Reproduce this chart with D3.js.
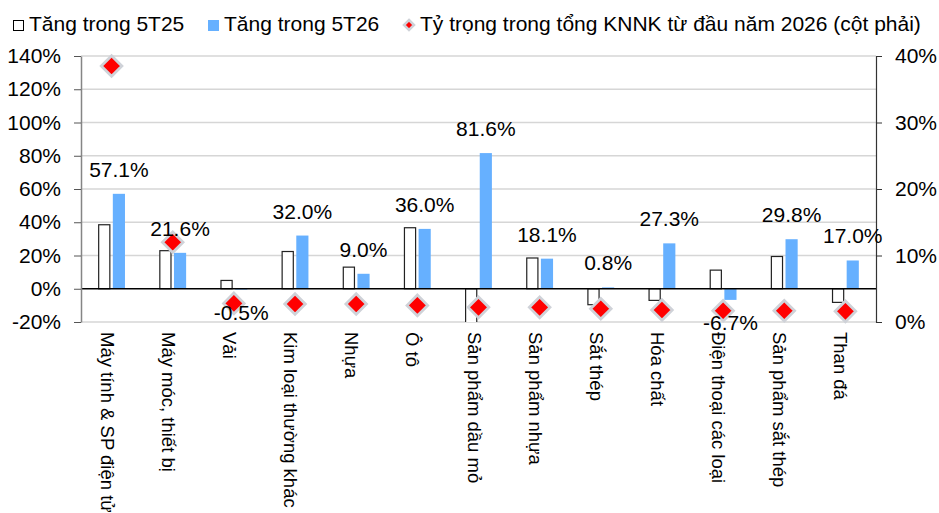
<!DOCTYPE html>
<html>
<head>
<meta charset="utf-8">
<script src="https://cdnjs.cloudflare.com/ajax/libs/d3/7.8.5/d3.min.js"></script>
<style>
    body { margin: 0; background: #fff; }
    svg { font-family: "Liberation Sans", Arial, sans-serif; display: block; }
</style>
</head>
<body>
<div class="chart-bars"></div>
<script>
var categories = ["Máy tính & SP điện tử", "Máy móc, thiết bị", "Vải", "Kim loại thường khác", "Nhựa", "Ô tô",
    "Sản phẩm dầu mỏ", "Sản phẩm nhựa", "Sắt thép", "Hóa chất", "Điện thoại các loại", "Sản phẩm sắt thép", "Than đá"];
var tang5T25 = [38.5, 22.9, 5.0, 22.4, 13.0, 36.7, -35.0, 18.5, -9.6, -7.0, 11.2, 19.4, -8.2];
var tang5T26 = [57.1, 21.6, -0.5, 32.0, 9.0, 36.0, 81.6, 18.1, 0.8, 27.3, -6.7, 29.8, 17.0];
var tyTrong = [38.5, 12.0, 2.8, 2.7, 2.7, 2.5, 2.2, 2.2, 2.0, 1.8, 1.7, 1.7, 1.6];
var leftTicks = [-20, 0, 20, 40, 60, 80, 100, 120, 140];
var rightTicks = [0, 10, 20, 30, 40];
var seriesNames = ["Tăng trong 5T25", "Tăng trong 5T26", "Tỷ trọng trong tổng KNNK từ đầu năm 2026 (cột phải)"];

var W = 939, H = 513,
    margin = {top: 56, right: 63, bottom: 191, left: 81},
    width = W - margin.left - margin.right,
    height = H - margin.top - margin.bottom;

var svg = d3.select(".chart-bars").append("svg")
    .attr("width", W)
    .attr("height", H);

var g = svg.append("g").attr("transform", "translate(" + margin.left + "," + margin.top + ")");

var x = d3.scaleBand().domain(categories).range([0, width]);
var x1 = d3.scaleBand().domain(["a", "b"]).range([-13.4, 13.4]).paddingInner(0.17);
var yL = d3.scaleLinear().domain([-20, 140]).range([height, 0]);
var yR = d3.scaleLinear().domain([0, 40]).range([height, 0]);

var data = categories.map(function(c, i) {
    return {cat: c, a: tang5T25[i], b: tang5T26[i], t: tyTrong[i]};
});

g.append("clipPath").attr("id", "plot")
    .append("rect").attr("width", width).attr("height", height);

// gridlines
g.append("g").selectAll("line")
    .data(leftTicks.filter(function(d) { return d !== 0; }))
    .enter().append("line")
    .attr("x1", 0).attr("x2", width)
    .attr("y1", function(d) { return yL(d); })
    .attr("y2", function(d) { return yL(d); })
    .attr("stroke", "#d6d6d6")
    .attr("stroke-width", 1.5);

var bars = g.append("g").attr("clip-path", "url(#plot)");

bars.selectAll(".bar-a")
    .data(data)
    .enter().append("rect")
    .attr("x", function(d) { return x(d.cat) + x.bandwidth() / 2 + x1("a") + 0.5; })
    .attr("width", x1.bandwidth() - 1)
    .attr("y", function(d) { return yL(Math.max(0, d.a)); })
    .attr("height", function(d) { return Math.abs(yL(d.a) - yL(0)); })
    .attr("fill", "#fff")
    .attr("stroke", "#222")
    .attr("stroke-width", 1.2);

bars.selectAll(".bar-b")
    .data(data)
    .enter().append("rect")
    .attr("x", function(d) { return x(d.cat) + x.bandwidth() / 2 + x1("b"); })
    .attr("width", x1.bandwidth())
    .attr("y", function(d) { return yL(Math.max(0, d.b)); })
    .attr("height", function(d) { return Math.abs(yL(d.b) - yL(0)); })
    .attr("fill", "#66b0ff");

// zero line
g.append("line")
    .attr("x1", 0).attr("x2", width)
    .attr("y1", yL(0)).attr("y2", yL(0))
    .attr("stroke", "#000")
    .attr("stroke-width", 1.5);

// axes
var axL = g.append("g")
    .call(d3.axisLeft(yL).tickValues(leftTicks).tickSize(7).tickSizeOuter(0).tickPadding(13)
        .tickFormat(function(d) { return d + "%"; }));
axL.select(".domain").attr("stroke", "#858585").attr("stroke-width", 1.5);
axL.selectAll(".tick line").attr("stroke", "#555");

var axR = g.append("g")
    .attr("transform", "translate(" + width + ",0)")
    .call(d3.axisRight(yR).tickValues(rightTicks).tickSize(6).tickSizeOuter(0).tickPadding(13)
        .tickFormat(function(d) { return d + "%"; }));
axR.select(".domain").attr("stroke", "#333").attr("stroke-width", 1.2);
axR.selectAll(".tick line").attr("stroke", "#333");

g.selectAll(".tick text")
    .attr("font-family", "Liberation Sans, Arial, sans-serif")
    .attr("font-size", 21)
    .attr("fill", "#000");

// diamonds
var diamond = function(h) { return "M0," + (-h) + "L" + h + ",0L0," + h + "L" + (-h) + ",0Z"; };

g.append("g").selectAll("path")
    .data(data)
    .enter().append("path")
    .attr("transform", function(d) { return "translate(" + (x(d.cat) + x.bandwidth() / 2) + "," + yR(d.t) + ")"; })
    .attr("d", diamond(10.3))
    .attr("fill", "#ff0000")
    .attr("stroke", "#cfd2d8")
    .attr("stroke-width", 2.8);

// value labels for 5T26
g.append("g").selectAll("text")
    .data(data)
    .enter().append("text")
    .attr("x", function(d) { return x(d.cat) + x.bandwidth() / 2 + x1("b") + x1.bandwidth() / 2; })
    .attr("y", function(d) { return d.b >= 0 ? yL(d.b) - 17 : yL(d.b) + 30; })
    .attr("text-anchor", "middle")
    .attr("font-size", 21)
    .text(function(d) { return d.b.toFixed(1) + "%"; });

// category labels
g.append("g").selectAll("text")
    .data(categories)
    .enter().append("text")
    .attr("transform", function(d) { return "translate(" + (x(d) + x.bandwidth() / 2 - 4.5) + "," + (height + 10) + ") rotate(90)"; })
    .attr("dy", "0.35em")
    .attr("font-size", 18.5)
    .text(function(d) { return d; });

// legend
var legend = svg.append("g").attr("font-size", 21);

legend.append("rect")
    .attr("x", 13.5).attr("y", 20.5).attr("width", 10).attr("height", 10)
    .attr("fill", "#fff").attr("stroke", "#000").attr("stroke-width", 1);
legend.append("text").attr("x", 29).attr("y", 31).text(seriesNames[0]);

legend.append("rect")
    .attr("x", 208).attr("y", 20).attr("width", 11).attr("height", 11)
    .attr("fill", "#66b0ff");
legend.append("text").attr("x", 224).attr("y", 31).text(seriesNames[1]);

legend.append("path")
    .attr("transform", "translate(409,25)")
    .attr("d", diamond(5))
    .attr("fill", "#ff0000")
    .attr("stroke", "#cfd2d8")
    .attr("stroke-width", 2.5);
legend.append("text").attr("x", 420).attr("y", 31).text(seriesNames[2]);
</script>
</body>
</html>
